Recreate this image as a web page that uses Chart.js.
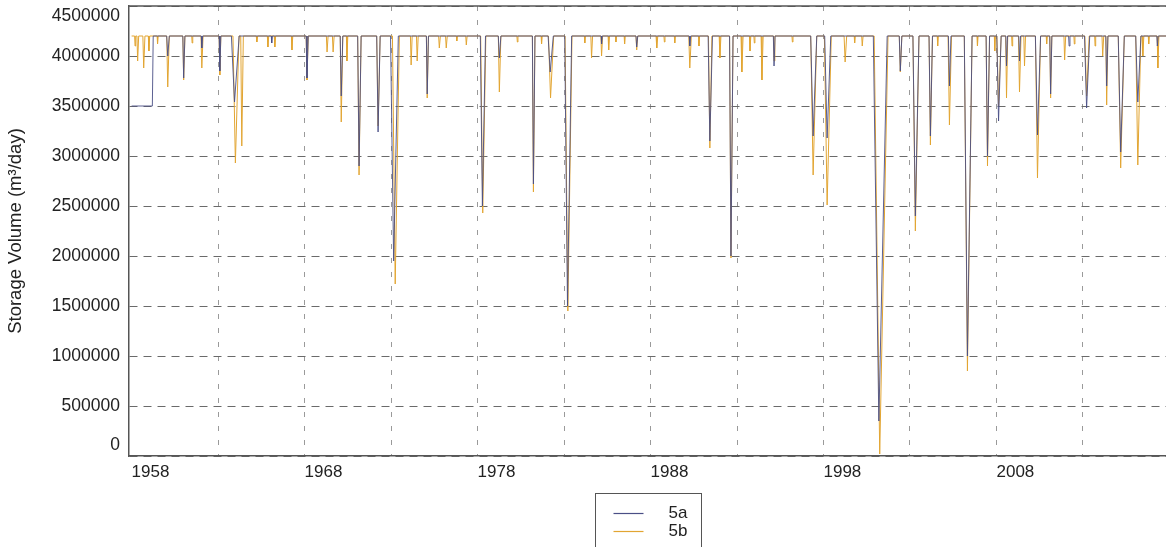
<!DOCTYPE html>
<html>
<head>
<meta charset="utf-8">
<script src="https://cdn.jsdelivr.net/npm/chart.js@4.4.0/dist/chart.umd.min.js"></script>
<style>
html,body{margin:0;padding:0;background:#fff;}
#wrap{width:1166px;height:547px;position:relative;}
</style>
</head>
<body>
<div id="wrap"><canvas id="storageChart"></canvas></div>
<script>

// Storage volume data

const seriesNames=["5a","5b"];
const fullLevel=4200000;
const yTicks=[0,500000,1000000,1500000,2000000,2500000,3000000,3500000,4000000,4500000];
const gridYears=[1958,1963,1968,1973,1978,1983,1988,1993,1998,2003,2008,2013];
const yearLabels=[1958,1968,1978,1988,1998,2008];
const firstYear=1958.0;
const lastYear=2017.8;

// 5a starts below full
const start5a=[[1958.0,3500000],[1959.2,3500000],[1959.25,4200000]];

// drawdowns: [year of lowest point, lowest volume, length in years]
const dips5a=[
[1960.09,4000000,0.15],[1961.01,3780000,0.12],[1962.06,4080000,0.08],[1963.10,3850000,0.10],
[1963.95,3540000,0.45],[1966.10,4130000,0.06],[1968.14,3780000,0.12],[1970.12,3600000,0.15],
[1971.15,2900000,0.20],[1972.25,3240000,0.20],[1973.15,1950000,0.45],[1975.09,3620000,0.12],
[1978.28,2500000,0.30],[1979.26,3980000,0.15],[1981.23,2720000,0.15],[1982.20,3840000,0.30],
[1983.20,1500000,0.40],[1985.17,4120000,0.06],[1987.20,4090000,0.10],[1990.27,4100000,0.08],
[1991.43,3150000,0.25],[1992.65,2000000,0.20],[1995.14,3900000,0.10],[1997.40,3200000,0.35],
[1998.21,3180000,0.35],[2001.20,350000,0.80],[2002.44,3850000,0.15],[2003.31,2400000,0.35],
[2004.18,3200000,0.20],[2005.28,3700000,0.15],[2006.32,1000000,0.45],[2007.48,3000000,0.20],
[2008.12,3350000,0.25],[2008.58,3900000,0.10],[2009.33,3950000,0.10],[2010.37,3210000,0.30],
[2011.13,3620000,0.12],[2012.20,4100000,0.08],[2013.21,3480000,0.30],[2014.37,3700000,0.12],
[2015.18,3040000,0.35],[2016.17,3540000,0.30],[2017.30,4100000,0.08]
];

const dips5b=[
[1958.20,4100000,0.06],[1958.35,3950000,0.10],[1958.70,3880000,0.12],[1959.00,4050000,0.08],
[1959.50,4120000,0.06],[1960.09,3690000,0.15],[1961.01,3760000,0.12],[1961.50,4130000,0.06],
[1962.06,3880000,0.12],[1963.10,3810000,0.10],[1964.00,2930000,0.35],[1964.37,3100000,0.15],
[1965.24,4140000,0.08],[1965.88,4090000,0.08],[1966.28,4090000,0.08],[1967.27,4060000,0.08],
[1968.14,3760000,0.12],[1969.30,4040000,0.10],[1969.65,4040000,0.10],[1970.12,3340000,0.15],
[1970.45,3950000,0.08],[1971.15,2810000,0.20],[1972.25,3300000,0.20],[1973.24,1720000,0.40],
[1974.16,3910000,0.10],[1974.51,3950000,0.10],[1975.09,3580000,0.12],[1975.79,4080000,0.10],
[1976.19,4080000,0.10],[1976.80,4150000,0.06],[1977.35,4110000,0.08],[1978.30,2430000,0.30],
[1979.26,3640000,0.15],[1980.30,4140000,0.06],[1981.23,2640000,0.15],[1981.70,4120000,0.06],
[1982.22,3580000,0.30],[1983.22,1450000,0.40],[1984.20,4130000,0.06],[1984.59,3980000,0.10],
[1985.17,4000000,0.10],[1985.58,4060000,0.08],[1986.00,4140000,0.06],[1986.50,4120000,0.06],
[1987.20,4060000,0.10],[1988.36,4080000,0.10],[1988.80,4140000,0.06],[1989.40,4130000,0.06],
[1990.27,3880000,0.15],[1990.80,4100000,0.06],[1991.43,3080000,0.20],[1992.01,3980000,0.10],
[1992.65,1980000,0.20],[1993.28,3840000,0.12],[1993.75,4050000,0.08],[1994.00,4130000,0.06],
[1994.44,3760000,0.12],[1995.14,3950000,0.08],[1996.20,4140000,0.06],[1997.40,2810000,0.35],
[1998.21,2510000,0.40],[1999.25,3940000,0.15],[1999.80,4130000,0.06],[2000.24,4100000,0.08],
[2001.25,20000,0.80],[2002.44,3840000,0.15],[2003.31,2250000,0.35],[2004.18,3110000,0.20],
[2004.60,4100000,0.06],[2005.28,3310000,0.20],[2006.32,850000,0.45],[2006.90,4100000,0.06],
[2007.48,2900000,0.20],[2007.90,4050000,0.06],[2008.12,3500000,0.25],[2008.58,3580000,0.12],
[2008.90,4100000,0.06],[2009.33,3640000,0.15],[2009.62,3900000,0.10],[2010.37,2780000,0.30],
[2010.90,4120000,0.06],[2011.13,3580000,0.12],[2011.94,3960000,0.10],[2012.50,4120000,0.06],
[2013.21,3600000,0.25],[2013.70,4100000,0.06],[2014.14,4000000,0.10],[2014.37,3510000,0.12],
[2015.18,2880000,0.35],[2016.17,2910000,0.30],[2016.46,4000000,0.10],[2016.80,4120000,0.06],
[2017.33,3880000,0.10]
];


// full level between drawdowns
function buildSeries(dips,startPts){
const pts=[];
if(startPts.length){
startPts.forEach(p=>pts.push({x:p[0],y:p[1]}));
}else{
pts.push({x:firstYear,y:fullLevel});
}
dips.forEach(d=>{
pts.push({x:d[0]-d[2]*0.4,y:fullLevel});
pts.push({x:d[0],y:d[1]});
pts.push({x:d[0]+d[2]*0.6,y:fullLevel});
});
pts.push({x:lastYear,y:fullLevel});
return pts;
}


// box legend under the plot
const boxLegend={
id:"boxLegend",
afterDraw(chart){
const ctx=chart.ctx;
const area=chart.chartArea;
const w=106,h=60;
const left=Math.round((area.left+area.right)/2-w/2)+0.5;
const top=area.bottom+37.5;
ctx.save();
ctx.strokeStyle="#555";
ctx.lineWidth=1;
ctx.strokeRect(left,top,w,h);
ctx.font="17px 'Liberation Sans', Arial, sans-serif";
ctx.textBaseline="middle";
ctx.fillStyle="#222";
chart.data.datasets.forEach((ds,i)=>{
const y=top+20+i*18;
ctx.strokeStyle=ds.borderColor;
ctx.lineWidth=1.2;
ctx.beginPath();
ctx.moveTo(left+18,y);
ctx.lineTo(left+48,y);
ctx.stroke();
ctx.fillText(ds.label,left+73,y);
});
ctx.restore();
}
};

// top frame line
const topFrame={
id:"topFrame",
afterDatasetsDraw(chart){
const ctx=chart.ctx;
const a=chart.chartArea;
ctx.save();
ctx.strokeStyle="#555";
ctx.lineWidth=1.5;
ctx.beginPath();
ctx.moveTo(a.left,a.top);
ctx.lineTo(a.right,a.top);
ctx.stroke();
ctx.restore();
}
};


const ctx=document.getElementById("storageChart");

new Chart(ctx,{
type:"line",
data:{
datasets:[{
label:seriesNames[0],
data:buildSeries(dips5a,start5a),
borderColor:"#4a4f86",
borderWidth:0.9,
pointRadius:0,
tension:0
},{
label:seriesNames[1],
data:buildSeries(dips5b,[]),
borderColor:"#e2a532",
borderWidth:1,
pointRadius:0,
tension:0
}]
},
options:{
responsive:true,
maintainAspectRatio:false,
animation:false,
layout:{padding:{top:6,right:0,bottom:61,left:0}},
plugins:{
legend:{display:false},
tooltip:{enabled:false}
},
scales:{
x:{
type:"linear",
min:1957.85,
max:lastYear,
afterBuildTicks(scale){
scale.ticks=gridYears.map(v=>({value:v}));
},
afterFit(scale){
scale.height=30;
scale.paddingLeft=0;
scale.paddingRight=0;
},
ticks:{
autoSkip:false,
maxRotation:0,
align:"start",
padding:6,
color:"#222",
font:{family:"'Liberation Sans', Arial, sans-serif",size:17},
callback:v=>yearLabels.includes(v)?String(v):""
},
grid:{
color:c=>c.tick&&c.tick.value===gridYears[0]?"rgba(0,0,0,0)":"#9a9a9a",
lineWidth:1,
drawTicks:false
},
border:{display:true,color:"#555",width:1.5,dash:[5,9]}
},
y:{
min:0,
max:4500000,
afterBuildTicks(scale){
scale.ticks=yTicks.map(v=>({value:v}));
},
afterFit(scale){
scale.width=129;
scale.paddingTop=0;
scale.paddingBottom=0;
},
title:{
display:true,
text:"Storage Volume (m³/day)",
color:"#222",
padding:{top:5,bottom:0},
font:{family:"'Liberation Sans', Arial, sans-serif",size:18.5}
},
ticks:{
padding:9,
color:"#222",
font:{family:"'Liberation Sans', Arial, sans-serif",size:17.5},
callback:v=>{
if(v===yTicks[yTicks.length-1]) return ["",String(v)];
if(v===yTicks[0]) return [String(v),""];
return String(v);
}
},
grid:{
color:"#6a6a6a",
lineWidth:1,
drawTicks:false
},
border:{display:true,color:"#555",width:1.5,dash:[8,6]}
}
}
},
plugins:[topFrame,boxLegend]
});

</script>
</body>
</html>
